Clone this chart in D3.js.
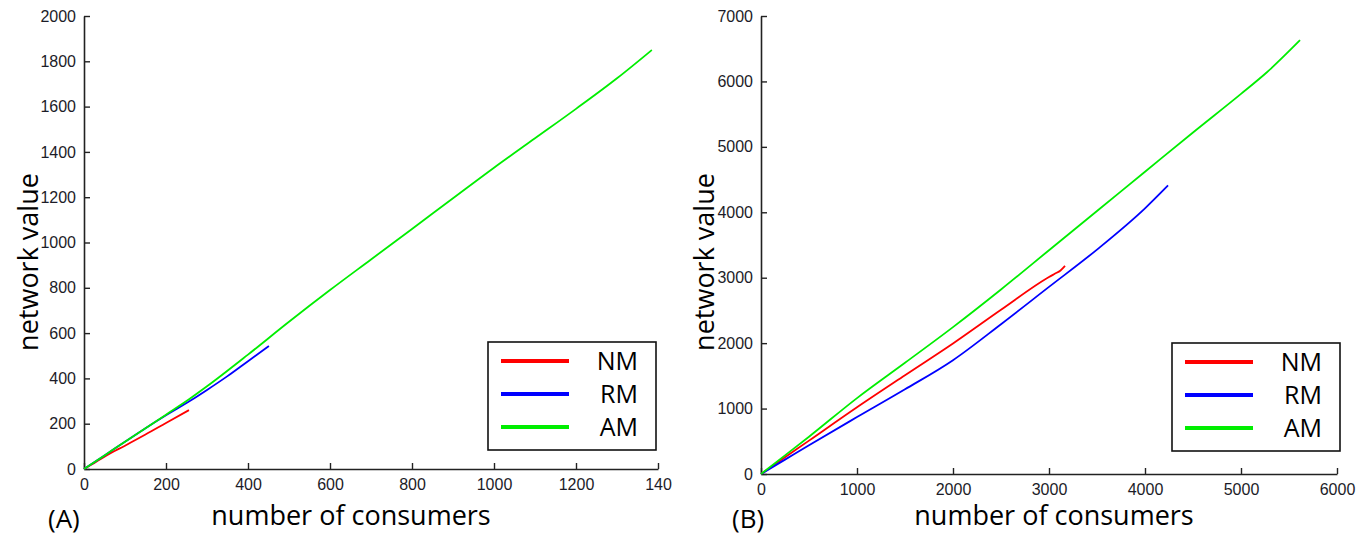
<!DOCTYPE html>
<html>
<head>
<meta charset="utf-8">
<script src="https://cdn.jsdelivr.net/npm/d3@7"></script>
<style>
  body { margin: 0; background: #fff; }
  svg { display: block; }
  .tick text { font-family: "Liberation Sans", Arial, sans-serif; font-size: 16px; fill: #1c1c28; }
  .title { font-family: "Open Sans", "Noto Sans", sans-serif; fill: #000; }
</style>
</head>
<body>
<div id="chart"></div>
<script>
// series names / colours
const seriesNames = ["NM", "RM", "AM"]
const seriesColors = ["#ff0000", "#0000ff", "#00ee00"]

// panel A  [consumers, value]
const nmA = [[0,0],[30,32],[55,60],[100,103],[150,152],[200,203],[256,260]]
const rmA = [[0,0],[50,60],[100,120],[150,180],[200,237],[258,300],[300,349],[350,410],[400,476],[451,543]]
const amA = [[0,0],[50,60],[100,120],[150,180],[200,240],[258,310],[300,365],[400,505],[500,650],[600,790],[700,925],[800,1060],[900,1195],[1000,1330],[1100,1460],[1200,1590],[1300,1725],[1385,1850]]

// panel B
const nmB = [[0,0],[250,255],[500,510],[1000,1020],[1500,1510],[2000,1995],[2500,2510],[3000,3010],[3060,3060],[3120,3110],[3167,3180]]
const rmB = [[0,0],[250,220],[500,440],[1000,870],[1500,1295],[2000,1740],[2500,2290],[3000,2860],[3500,3430],[4000,4060],[4240,4410]]
const amB = [[0,0],[250,285],[500,570],[1000,1160],[1500,1700],[2000,2245],[2500,2820],[3000,3420],[3500,4020],[4000,4620],[4500,5220],[5000,5810],[5270,6140],[5615,6630]]

// axis ticks
const xTicksA = [0,200,400,600,800,1000,1200,1400]
const xTickLabelsA = ["0","200","400","600","800","1000","1200","140"]
const yTicksA = [0,200,400,600,800,1000,1200,1400,1600,1800,2000]
const xTicksB = [0,1000,2000,3000,4000,5000,6000]
const yTicksB = [0,1000,2000,3000,4000,5000,6000,7000]

const svg = d3.select("#chart").append("svg")
    .attr("width", 1369).attr("height", 535)

function drawPanel(p){
    const x = d3.scaleLinear().domain(p.xDomain).range([p.left, p.right])
    const y = d3.scaleLinear().domain(p.yDomain).range([p.bottom, p.top])
    const g = svg.append("g")

    // axes, ticks pointing inward
    g.append("g")
        .attr("transform", `translate(0,${p.bottom})`)
        .call(d3.axisBottom(x).tickValues(p.xTicks).tickSizeInner(-6).tickSizeOuter(0).tickPadding(10)
            .tickFormat((d,i)=>p.xLabels[i]))
    g.append("g")
        .attr("transform", `translate(${p.left},0)`)
        .call(d3.axisLeft(y).tickValues(p.yTicks).tickSizeInner(-6).tickSizeOuter(0).tickPadding(8)
            .tickFormat(d3.format("d")))
    g.selectAll(".domain").attr("stroke", "#222").attr("stroke-width", 1.6)
    g.selectAll(".tick line").attr("stroke", "#222").attr("stroke-width", 1.4)

    // lines
    const line = d3.line().curve(d3.curveMonotoneX).x(d=>x(d[0])).y(d=>y(d[1]))
    p.series.forEach((s,i)=>{
        g.append("path")
            .datum(s)
            .attr("fill","none")
            .attr("stroke", seriesColors[i])
            .attr("stroke-width", 1.8)
            .attr("d", line)
    })

    // titles
    g.append("text").attr("class","title")
        .attr("x", p.xTitleX).attr("y", 525)
        .attr("text-anchor","middle").attr("font-size", 27)
        .text("number of consumers")
    g.append("text").attr("class","title")
        .attr("transform", `translate(${p.yTitleX},262) rotate(-90)`)
        .attr("text-anchor","middle").attr("font-size", 27)
        .text("network value")
    g.append("text").attr("class","title")
        .attr("x", p.tagX).attr("y", 528)
        .attr("font-size", 26)
        .text(p.tag)

    // legend
    const lg = g.append("g").attr("transform", `translate(${p.legX},${p.legY})`)
    lg.append("rect")
        .attr("width", 168).attr("height", 108)
        .attr("fill","#fff").attr("stroke","#111").attr("stroke-width",1.6)
    seriesNames.forEach((n,i)=>{
        const yy = 19 + i*33
        lg.append("line")
            .attr("x1", 13).attr("x2", 81).attr("y1", yy).attr("y2", yy)
            .attr("stroke", seriesColors[i]).attr("stroke-width", 4)
        lg.append("text").attr("class","title")
            .attr("x", 150).attr("y", yy + 9)
            .attr("text-anchor","end").attr("font-size", 25)
            .text(n)
    })
}

drawPanel({
    xDomain:[0,1400], yDomain:[0,2000],
    left:84, right:658, top:16, bottom:469,
    xTicks:xTicksA, xLabels:xTickLabelsA, yTicks:yTicksA,
    series:[nmA,rmA,amA],
    xTitleX:351, yTitleX:38, tag:"(A)", tagX:48,
    legX:488, legY:342
})

drawPanel({
    xDomain:[0,6000], yDomain:[0,7000],
    left:761, right:1337, top:16, bottom:474,
    xTicks:xTicksB, xLabels:xTicksB.map(String), yTicks:yTicksB,
    series:[nmB,rmB,amB],
    xTitleX:1054, yTitleX:714, tag:"(B)", tagX:732,
    legX:1172, legY:343
})
</script>
</body>
</html>
